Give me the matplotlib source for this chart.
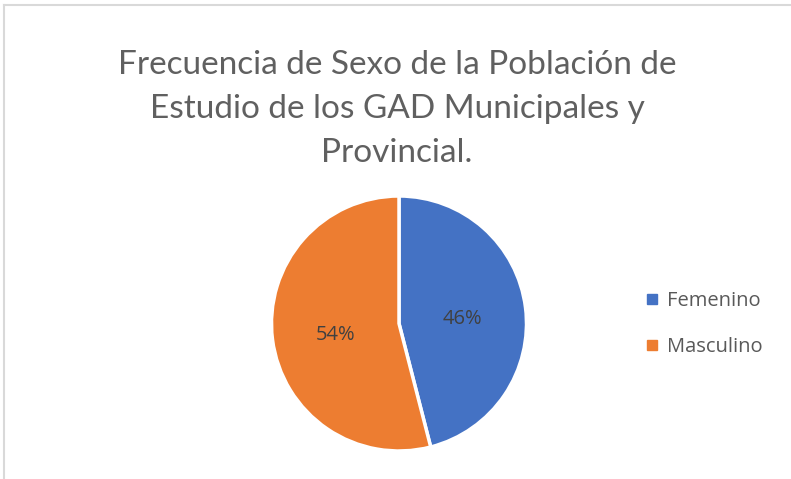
import matplotlib
matplotlib.use("Agg")
import matplotlib.pyplot as plt
from matplotlib.lines import Line2D
import numpy as np

categories = ["Femenino", "Masculino"]
values = [46, 54]
colors = ["#4472C4", "#ED7D31"]
title = "Frecuencia de Sexo de la Población de\nEstudio de los GAD Municipales y\nProvincial."

W, H = 791, 479
fig = plt.figure(figsize=(W/100, H/100), dpi=100)
fig.patch.set_facecolor("white")

# chart border (left and top visible)
fig.add_artist(Line2D([4/W, 4/W], [0, 1-5/H], color="#d9d9d9", lw=1.5))
fig.add_artist(Line2D([4/W, 1], [1-5/H, 1-5/H], color="#d9d9d9", lw=1.5))

fig.text(397/W, 1-109/H, title, ha="center", va="center", fontsize=24,
         color="#606060", family=["Lato", "DejaVu Sans"], fontweight="normal",
         linespacing=1.58)

ax = fig.add_axes([271/W, 1-451/H, 256/W, 255/H])
wedges = ax.pie(values, colors=colors, startangle=90, counterclock=False,
                wedgeprops=dict(edgecolor="white", linewidth=2.5))[0]
for w, v in zip(wedges, values):
    ang = np.deg2rad((w.theta1 + w.theta2) / 2)
    ax.text(0.5*np.cos(ang), 0.5*np.sin(ang) - 0.03, f"{v}%", ha="center", va="center",
            fontsize=14.5, color="#404040", family=["Open Sans", "DejaVu Sans"])
ax.set_aspect("equal")
ax.set_xlim(-1.0, 1.0)
ax.set_ylim(-1.0, 1.0)

handles = [Line2D([0], [0], marker="s", linestyle="none", markersize=6.5,
                  markerfacecolor=c, markeredgecolor=c) for c in colors]
fig.legend(handles, categories, loc="center left",
           bbox_to_anchor=(646/W, 1-324/H), frameon=False,
           labelcolor="#595959", handlelength=0.6, handletextpad=0.45,
           labelspacing=1.3, borderpad=0, borderaxespad=0,
           prop={"family": ["Open Sans", "DejaVu Sans"], "size": 14.5})

fig.savefig("out.png", dpi=100, facecolor="white")
